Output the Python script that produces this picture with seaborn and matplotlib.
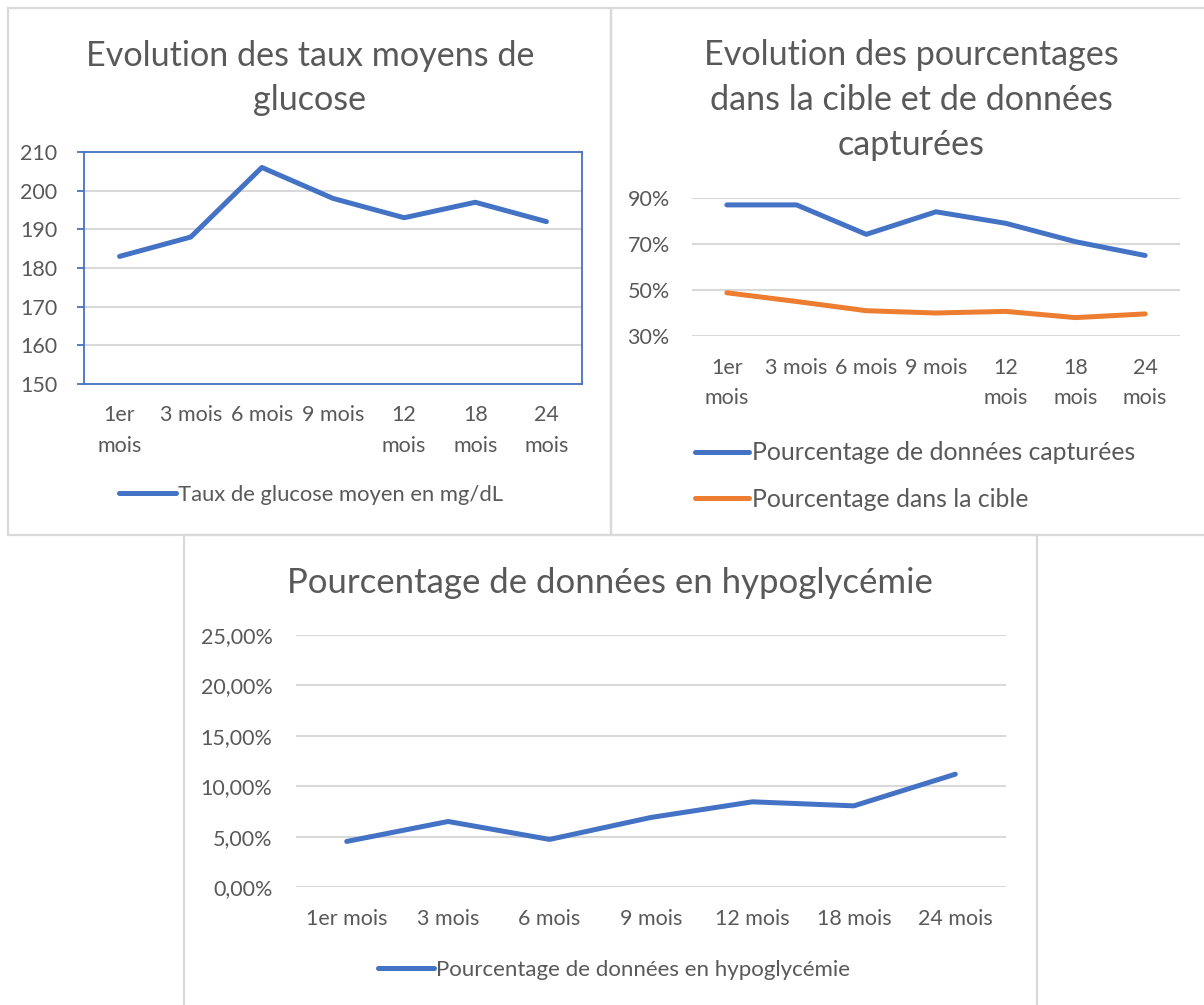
import matplotlib
matplotlib.use("Agg")
import matplotlib.pyplot as plt
import matplotlib.patches as mpatches
from matplotlib.ticker import FuncFormatter
import seaborn as sns
import pandas as pd

# ---------------- data ----------------
categories = ["1er mois", "3 mois", "6 mois", "9 mois", "12 mois", "18 mois", "24 mois"]
labels_wrapped = ["1er\nmois", "3 mois", "6 mois", "9 mois", "12\nmois", "18\nmois", "24\nmois"]

glucose = [183, 188, 206, 198, 193, 197, 192]
captured = [87, 87, 74.2, 84, 79, 71, 65]
in_target = [48.8, 45, 41, 40, 40.7, 38, 39.6]
hypo = [4.52, 6.5, 4.72, 6.9, 8.45, 8.05, 11.19]

title1 = "Evolution des taux moyens de\nglucose"
title2 = "Evolution des pourcentages\ndans la cible et de données\ncapturées"
title3 = "Pourcentage de données en hypoglycémie"
name_glucose = "Taux de glucose moyen en mg/dL"
name_captured = "Pourcentage de données capturées"
name_target = "Pourcentage dans la cible"
name_hypo = "Pourcentage de données en hypoglycémie"

# ---------------- style ----------------
sns.set_theme(style="white")
plt.rcParams["font.family"] = ["Lato", "DejaVu Sans"]
BLUE = "#4472C4"
ORANGE = "#ED7D31"
TXT = "#595959"
GRID = "#D9D9D9"
W, H = 1204, 1005
LW = 3.6

fig = plt.figure(figsize=(W / 100, H / 100), dpi=100)
fig.patch.set_facecolor("white")


def axes_px(left, top, right, bottom):
    return fig.add_axes([left / W, 1 - bottom / H, (right - left) / W, (bottom - top) / H])


# panel borders
for (l, t, r, b) in [(8, 8, 611, 535), (611, 8, 1210, 535), (184, 535, 1037, 1012)]:
    fig.patches.append(mpatches.Rectangle((l / W, 1 - b / H), (r - l) / W, (b - t) / H,
                                          transform=fig.transFigure, fill=False,
                                          edgecolor=GRID, linewidth=1.6, zorder=0))

TICK_FS = 15.5
TITLE_FS = 24.6

# ---------------- chart 1 ----------------
ax1 = axes_px(84, 152, 582, 384)
df1 = pd.DataFrame({"cat": categories, "val": glucose})
sns.lineplot(data=df1, x="cat", y="val", ax=ax1, color=BLUE, linewidth=LW,
             sort=False, label=name_glucose, solid_capstyle="round", legend=False)
ax1.set_xlim(-0.5, len(categories) - 0.5)
ax1.set_ylim(150, 210)
ax1.set_yticks(range(150, 211, 10))
ax1.set_xticks(range(len(categories)))
ax1.set_xticklabels(labels_wrapped, linespacing=1.7)
for s in ax1.spines.values():
    s.set_visible(True)
    s.set_color(BLUE)
    s.set_linewidth(1.3)
ax1.yaxis.grid(True, color=GRID, linewidth=1.5)
ax1.set_axisbelow(True)
ax1.tick_params(axis="y", left=True, length=5, width=1.3, color=BLUE, pad=14,
                labelsize=TICK_FS, labelcolor=TXT)
ax1.tick_params(axis="x", bottom=False, length=0, pad=15, labelsize=TICK_FS, labelcolor=TXT)
ax1.set_xlabel("")
ax1.set_ylabel("")
fig.text(310 / W, 1 - 78 / H, title1, ha="center", va="center", fontsize=TITLE_FS,
         color=TXT, linespacing=1.5)
h1, l1 = ax1.get_legend_handles_labels()
fig.legend(h1, l1, loc="center left", bbox_to_anchor=(119 / W, 1 - 495 / H),
           frameon=False, fontsize=15.8, labelcolor=TXT, handlelength=2.6,
           handletextpad=0.1, borderaxespad=0, borderpad=0)

# ---------------- chart 2 ----------------
ax2 = axes_px(692, 198, 1180, 336)
df2 = pd.DataFrame({"cat": categories * 2,
                    "val": captured + in_target,
                    "serie": [name_captured] * 7 + [name_target] * 7})
sns.lineplot(data=df2, x="cat", y="val", hue="serie", ax=ax2,
             palette=[BLUE, ORANGE], linewidth=LW, sort=False,
             solid_capstyle="round", legend=False)
ax2.set_xlim(-0.5, len(categories) - 0.5)
ax2.set_ylim(30, 90)
ax2.set_yticks([30, 50, 70, 90])
ax2.yaxis.set_major_formatter(FuncFormatter(lambda v, p: f"{v:.0f}%"))
ax2.set_xticks(range(len(categories)))
ax2.set_xticklabels(labels_wrapped, linespacing=1.6)
for s in ax2.spines.values():
    s.set_visible(False)
ax2.yaxis.grid(True, color=GRID, linewidth=1.5)
ax2.set_axisbelow(True)
ax2.tick_params(axis="y", length=0, pad=16, labelsize=TICK_FS, labelcolor=TXT)
ax2.tick_params(axis="x", length=0, pad=16, labelsize=TICK_FS, labelcolor=TXT)
ax2.set_xlabel("")
ax2.set_ylabel("")
fig.text(911 / W, 1 - 100 / H, title2, ha="center", va="center", fontsize=TITLE_FS,
         color=TXT, linespacing=1.5)
h2 = [plt.Line2D([], [], color=BLUE, linewidth=LW, solid_capstyle="round"),
      plt.Line2D([], [], color=ORANGE, linewidth=LW, solid_capstyle="round")]
fig.legend(h2, [name_captured, name_target], loc="center left",
           bbox_to_anchor=(695 / W, 1 - 476 / H), frameon=False, fontsize=17.8,
           labelcolor=TXT, handlelength=2.2, handletextpad=0.1, labelspacing=0.95,
           borderaxespad=0, borderpad=0)

# ---------------- chart 3 ----------------
ax3 = axes_px(296, 635, 1006, 887)
df3 = pd.DataFrame({"cat": categories, "val": hypo})
sns.lineplot(data=df3, x="cat", y="val", ax=ax3, color=BLUE, linewidth=LW,
             sort=False, label=name_hypo, solid_capstyle="round", legend=False)
ax3.set_xlim(-0.5, len(categories) - 0.5)
ax3.set_ylim(0, 25)
ax3.set_yticks([0, 5, 10, 15, 20, 25])
ax3.yaxis.set_major_formatter(FuncFormatter(lambda v, p: f"{v:.2f}%".replace(".", ",")))
ax3.set_xticks(range(len(categories)))
ax3.set_xticklabels(categories)
for s in ax3.spines.values():
    s.set_visible(False)
ax3.yaxis.grid(True, color=GRID, linewidth=1.5)
ax3.set_axisbelow(True)
ax3.tick_params(axis="y", length=0, pad=17, labelsize=TICK_FS, labelcolor=TXT)
ax3.tick_params(axis="x", length=0, pad=16, labelsize=TICK_FS, labelcolor=TXT)
ax3.set_xlabel("")
ax3.set_ylabel("")
fig.text(610 / W, 1 - 583 / H, title3, ha="center", va="center", fontsize=25,
         color=TXT)
h3, l3 = ax3.get_legend_handles_labels()
fig.legend(h3, l3, loc="center left", bbox_to_anchor=(378 / W, 1 - 970 / H),
           frameon=False, fontsize=16, labelcolor=TXT, handlelength=2.5,
           handletextpad=0.1, borderaxespad=0, borderpad=0)

fig.savefig("out.png", dpi=100, facecolor="white")
